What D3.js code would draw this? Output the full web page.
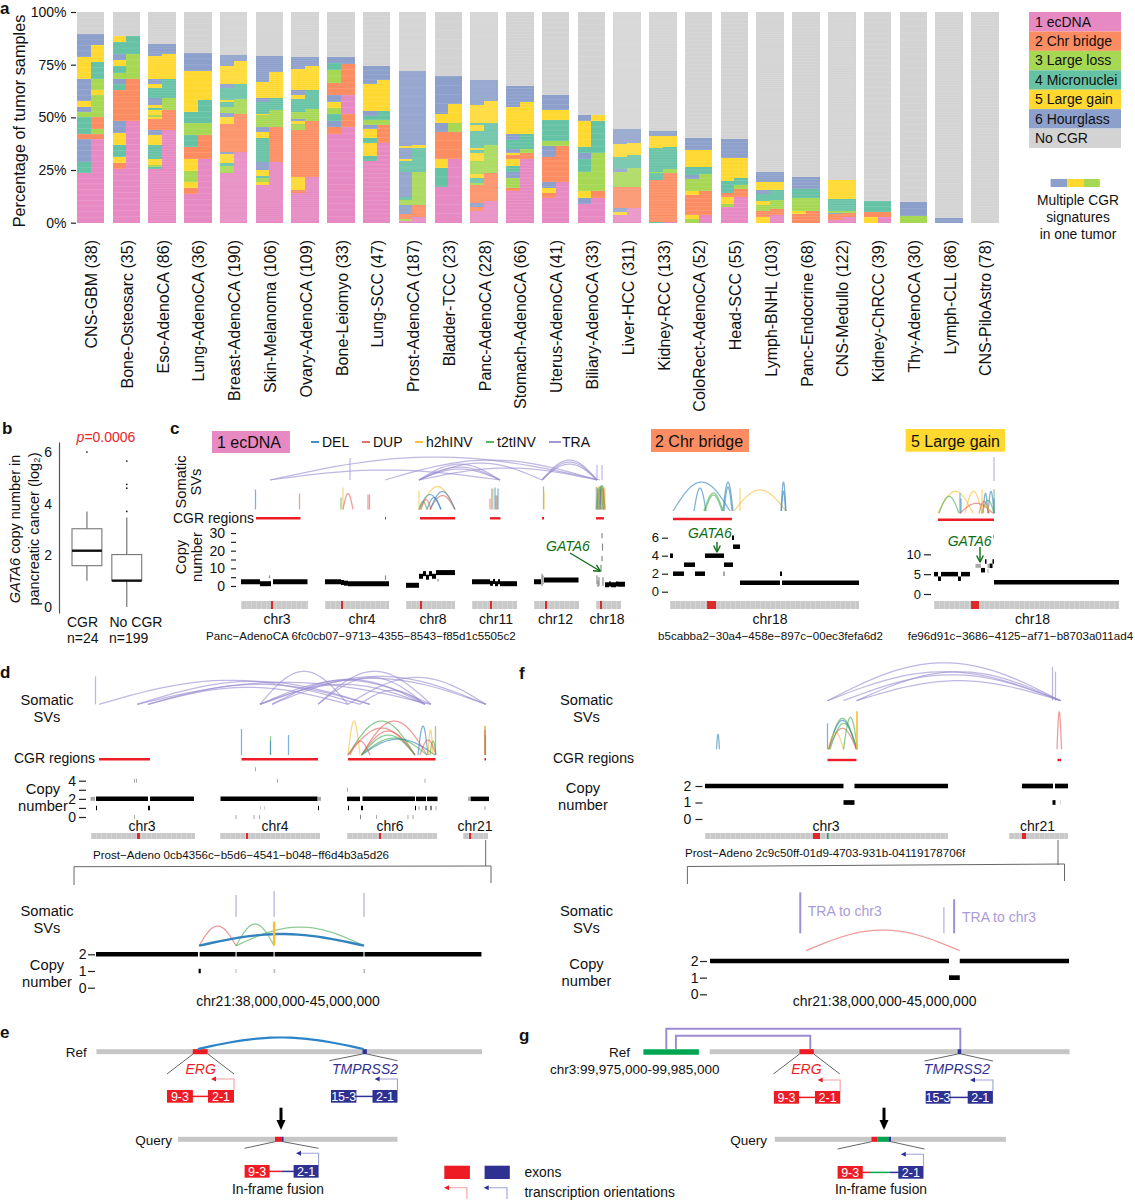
<!DOCTYPE html>
<html>
<head>
<meta charset="utf-8">
<script src="https://cdnjs.cloudflare.com/ajax/libs/d3/7.8.5/d3.min.js"></script>
<style>
body { margin: 0; background: #fff; }
svg { display: block; }
text { font-family: "Liberation Sans", Arial, sans-serif; fill: #111; }
</style>
</head>
<body>
<svg id="chart" width="1135" height="1200"></svg>
<script>
// ---- panel a
const cohorts = ["CNS-GBM", "Bone-Osteosarc", "Eso-AdenoCA", "Lung-AdenoCA", "Breast-AdenoCA", "Skin-Melanoma", "Ovary-AdenoCA", "Bone-Leiomyo", "Lung-SCC", "Prost-AdenoCA", "Bladder-TCC", "Panc-AdenoCA", "Stomach-AdenoCA", "Uterus-AdenoCA", "Biliary-AdenoCA", "Liver-HCC", "Kidney-RCC", "ColoRect-AdenoCA", "Head-SCC", "Lymph-BNHL", "Panc-Endocrine", "CNS-Medullo", "Kidney-ChRCC", "Thy-AdenoCA", "Lymph-CLL", "CNS-PiloAstro"];
const sampleCounts = [38, 35, 86, 36, 190, 106, 109, 33, 47, 187, 23, 228, 66, 41, 33, 311, 133, 52, 55, 103, 68, 122, 39, 30, 86, 78];
const signatures = ["1 ecDNA", "2 Chr bridge", "3 Large loss", "4 Micronuclei", "5 Large gain", "6 Hourglass", "No CGR"];
// each bar: [signature number, top of the band in %], bottom to top
const leftStacks = [
    [[1,23.4],[4,28.6],[6,39.5],[2,42],[4,50],[3,52.5],[6,55],[5,57.7],[6,68.4],[5,78.7],[6,89.4]],
    [[1,25.4],[2,28.4],[5,31.3],[4,36.8],[5,42.7],[6,48.3],[2,62.9],[4,65.7],[6,68.4],[3,71.2],[4,74.2],[5,77.1],[6,79.9],[4,85.8],[5,88.6]],
    [[1,25.3],[4,26.5],[3,27.6],[5,30],[4,36.8],[5,41.5],[6,43.9],[2,49],[5,50],[3,51],[5,53.4],[4,54.5],[5,55.8],[6,59.2],[4,63.7],[5,66],[6,68.4],[5,79],[6,85]],
    [[1,13.6],[2,16.3],[5,19.4],[3,24.6],[5,30.3],[2,35.7],[4,41.5],[3,47.1],[4,52.6],[5,72],[6,80.6]],
    [[1,23.4],[3,26.9],[4,28.5],[5,32.5],[6,33.5],[2,47],[5,50],[6,52.1],[3,54.7],[4,57.3],[5,58.3],[4,63.7],[6,65.7],[5,74.6],[6,79.5]],
    [[1,17.9],[5,19.5],[3,21],[4,22],[5,25],[6,28.9],[4,40.4],[5,43.1],[6,45.2],[3,51],[5,51.8],[4,57.3],[6,59.4],[5,66.8],[6,79]],
    [[1,14.2],[2,15.5],[5,21.8],[2,43.9],[3,46.8],[5,48.3],[6,49],[3,52.6],[4,58.5],[5,60.5],[6,63.2],[5,73.1],[6,78.7]],
    [[1,42.3],[2,45.2],[6,48.3],[4,51.5],[3,54.5],[5,57.3],[6,60.5],[2,66.4],[3,72.7],[4,75.8],[6,78.7]],
    [[1,29.4],[4,31.6],[5,37.9],[4,40.3],[5,44.4],[6,46.6],[3,48.7],[4,50.7],[6,52.9],[5,65.7],[6,74.4]],
    [[1,1],[3,1.9],[2,3.9],[6,8.4],[3,10.7],[4,12.3],[6,24.2],[4,29.2],[5,30],[6,35.5],[5,36.5],[6,72]],
    [[1,17],[4,25.8],[5,30.2],[2,43.1],[6,47.5],[5,51.8],[6,69.5]],
    [[1,5.7],[2,7.3],[6,9.5],[2,17.8],[3,19],[4,21.3],[5,22.9],[3,29.4],[5,33.2],[4,34.5],[5,35.5],[4,43.6],[5,46.3],[4,47.5],[5,55.8],[6,67.6]],
    [[1,15],[2,16.6],[3,21],[6,24.2],[4,27],[5,30],[2,32.1],[5,33.2],[6,34.8],[4,39.2],[6,42],[5,54.7],[6,64.9]],
    [[1,11.8],[2,14.2],[5,16.7],[6,19.4],[2,31.3],[6,36.3],[3,38.9],[4,48.7],[5,53.4],[6,60.8]],
    [[1,8.8],[6,11.8],[5,15],[3,24.2],[4,30],[6,33.2],[4,36],[5,48.3],[6,51.3]],
    [[1,3.6],[5,5.2],[6,6.8],[2,17],[3,24],[6,25.7],[4,31.2],[5,37.3],[6,44.7]],
    [[4,0.5],[2,20.2],[4,23.4],[3,24.2],[4,35.5],[5,41],[6,43.4]],
    [[3,1.6],[5,3.5],[2,13],[5,15],[3,20.9],[6,22.6],[4,26.5],[5,34.4],[6,40.3]],
    [[1,7.3],[3,8.8],[5,12.3],[2,14.2],[4,19.7],[5,30.8],[6,39.8]],
    [[5,2.7],[2,5.5],[3,8.4],[5,10.4],[4,13.4],[6,15.5],[5,19.1],[6,24]],
    [[2,4.1],[5,5.5],[3,11.5],[4,15.8],[6,21.8]],
    [[1,1.5],[2,3.9],[6,4.8],[3,5.5],[4,11.2],[5,20.2]],
    [[5,2.5],[2,5],[4,10.2]],
    [[3,3.3],[6,9.8]],
    [[6,2.2]],
    []
];
const rightStacks = [
    [[1,39.5],[2,42],[3,44.7],[2,50],[3,60.5],[5,63],[3,68.4],[4,76.3],[5,84.2],[6,89.4]],
    [[1,48.3],[2,68.4],[3,79.9],[4,88.6]],
    [[1,43.9],[2,53.4],[3,59.2],[4,68.4],[5,80.3],[6,85]],
    [[1,30.3],[2,41.5],[3,47.1],[4,58.1],[5,72],[6,80.6]],
    [[1,33.5],[2,51.8],[3,58.5],[4,65.7],[5,76.8],[6,79.5]],
    [[1,28.9],[2,45.2],[3,53.4],[4,59.4],[5,71.6],[6,79]],
    [[1,21.8],[2,48.3],[3,54.2],[4,63.2],[5,74.2],[6,78.7]],
    [[1,45.2],[2,51.5],[1,60.5],[2,75.5],[6,78.7]],
    [[1,38],[2,46.6],[3,48.7],[4,52.9],[5,67.9],[6,74.4]],
    [[1,2.5],[2,8.4],[3,24.2],[4,35.5],[5,36.8],[6,72]],
    [[1,30.2],[2,43.1],[3,47.5],[5,56.2],[6,69.5]],
    [[1,10.3],[2,23.4],[3,36.7],[4,47.5],[5,57.7],[6,67.6]],
    [[1,30],[2,33.2],[3,34.8],[4,42.3],[5,57.3],[6,64.9]],
    [[1,19.4],[2,36.5],[3,38.9],[4,48.7],[5,53.4],[6,60.8]],
    [[1,11.8],[2,15],[3,33.2],[4,48.3],[5,51.3]],
    [[1,6.8],[2,17],[3,26],[4,32],[5,37.7],[6,44.7]],
    [[1,0.5],[2,23.5],[3,25.5],[4,35.8],[5,41],[6,43.4]],
    [[1,3.5],[2,15],[3,22.9],[4,26.5],[5,34.4],[6,40.3]],
    [[1,12.3],[2,15.8],[3,17.7],[4,21.2],[5,30.8],[6,39.8]],
    [[1,3.6],[2,6.5],[3,11],[4,15.5],[5,19.1],[6,24]],
    [[2,5.5],[3,11.5],[4,15.8],[6,21.8]],
    [[1,2.5],[2,4.8],[3,5.6],[4,11.2],[5,20.2]],
    [[1,2.5],[2,5],[4,10.2]],
    [[3,3.3],[6,9.8]],
    [[6,2.2]],
    []
];

// ---- panel b
const boxGroups = ["CGR", "No CGR"];
const boxQ1 = [1.6, 1.02];
const boxMedian = [2.18, 1.02];
const boxQ3 = [3.03, 2.03];
const whiskerLow = [1.02, 0];
const whiskerHigh = [3.7, 3.47];
const boxOutliers = [[6], [3.7, 4.6, 4.75, 5.65]];

// ---- panel c, positions in Mb along the concatenated track: [type, from, to, arc height]
const c1Tra = [["TRA",58,718,23],["TRA",58,518,10],["TRA",288,712,20],["TRA",356,518,16],["TRA",356,518,13],["TRA",356,518,11],["TRA",356,602,17],["TRA",356,712,12],["TRA",602,712,20],["TRA",602,712,18],["TRA",602,712,16],["TRA",218,218,22],["TRA",712,712,15],["TRA",722,722,15]];
const c1Sv = [["DEL",29,29,20],["DUP",117,117,16],["H2H",204,204,22],["T2T",200,200,12],["DUP",204,224,16],["DUP",254,254,15],["DUP",257,257,15],
    ["H2H",358,428,23],["DEL",356,400,15],["DUP",378,428,14],["DEL",378,428,18],["T2T",356,372,8],["DEL",372,400,12],["H2H",356,356,19],["DUP",360,380,10],
    ["DUP",498,498,11],["DEL",502,502,21],["H2H",504,504,21],["DEL",508,508,22],["T2T",510,510,14],["DUP",512,512,14],["DEL",514,514,21],
    ["T2T",605,605,23],["H2H",606,606,18],
    ["H2H",712,726,23],["T2T",710,724,22],["DEL",714,720,20],["DUP",716,728,21],["T2T",716,728,24],["H2H",710,710,23],["DEL",712,712,22],["T2T",714,714,22],["H2H",716,716,24],["DUP",718,718,20],["DEL",720,720,24],["H2H",722,722,22],["T2T",724,724,23],["DUP",726,726,21],["H2H",728,728,22]];
const c1Cgr = [[30,119],[288,290],[358,428],[498,519],[602,606],[710,726]];
const c1Cn = [[0,38,2.4],[38,60,1.3],[64,133,2.4],[168,200,2.4],[200,206,2],[206,214,1.6],[214,296,1.3],[330,356,0.4],[356,364,5.5],[364,370,7],[370,376,5],[376,382,7],[382,390,5.5],[390,428,7.6],[462,498,2.4],[498,504,1.5],[504,508,2.5],[508,514,1.3],[514,518,2.4],[518,552,1.3],[586,600,2.4],[606,675,3.4],[728,736,0.7],[736,740,1.2],[740,750,0.7],[750,754,1.1],[754,768,1]];
const c1CnScatter = [[57,4.5,6],[289,3.5,6],[394,2.5,4],[602,0,7],[604,1,6],[722,27,30],[723,20,24],[722,14,17],[720,8,12],[716,0,5],[712,1,6],[714,-0.5,3],[724,0,5]];
const c1Chrs = [["chr3",0,133,60,64,72],["chr4",168,296,199,201,242],["chr8",330,428,358,360,384],["chr11",462,552,498,500,510],["chr12",586,676,608,610,629],["chr18",710,760,718,722,732]];

const c2Sv = [["DEL",6,120,29],["DEL",48,72,23],["T2T",68,106,18],["T2T",70,104,16],["DEL",106,126,29],["DEL",108,124,24],["H2H",128,232,21],["H2H",140,140,23],["DEL",222,232,29],["DEL",223,231,20]];
const c2Cgr = [[6,124]];
const c2Cn = [[0,6,4],[6,28,2],[28,50,3],[50,70,2],[70,108,4],[108,126,3],[126,140,5],[124,128,6],[140,220,1],[220,224,2],[224,378,1]];
const c2CnGray = [[106,110,2]];
const c2Chrs = [["chr18",0,378,74,92,200]];

const c3Tra = [["TRA",120,120,24]];
const c3Sv = [["H2H",8,78,22],["T2T",10,50,17],["DEL",52,52,20],["DEL",54,54,15],["H2H",62,96,22],["DUP",52,118,10],["H2H",96,96,24],["DEL",108,120,22],["T2T",96,120,13],["T2T",120,120,24],["DEL",98,108,20],["DUP",90,110,12],["H2H",96,112,8],["DEL",120,120,15]];
const c3Cgr = [[8,120]];
const c3Cn = [[0,8,5],[8,14,3.85],[14,48,5],[48,54,3.85],[54,72,5],[94,102,6],[102,105,8.2],[111,117,7.1],[117,120,8.2],[120,370,2.95]];
const c3CnGray = [[83,94,7.1],[107,111,7.1],[118,120,14.4],[107,109,5.8]];
const c3Chrs = [["chr18",0,370,74,90,197]];

// ---- panel d
const dTra = [["TRA",11,11,28],["TRA",18,540,24],["TRA",94,560,23],["TRA",116,560,20],["TRA",116,516,17],["TRA",94,682,22],["TRA",340,516,33],["TRA",364,670,25],["TRA",340,682,24],["TRA",340,792,26],["TRA",364,792,28],["TRA",456,682,33],["TRA",456,670,27],["TRA",340,670,20],["TRA",516,792,27],["TRA",540,670,14]];
const dSv = [["DEL",303,303,26],["T2T",361,361,19],["DEL",361,361,14],["DEL",397,397,20],
    ["H2H",516,540,34],["T2T",516,650,34],["DUP",543,674,34],["DUP",516,650,27],["DUP",543,650,24],["T2T",543,674,17],["DEL",543,690,16],["T2T",543,650,20],["DUP",520,560,14],["DEL",656,676,29],["H2H",676,686,25],["T2T",680,692,14],["T2T",691,691,29],["DUP",660,692,15],
    ["DEL",790,790,29],["H2H",789,789,29],["DUP",790,790,25],["T2T",791,791,20]];
const dCgr = [[18,120],[303,456],[516,691],[789,792]];
const dCn = [[12,116,2],[120,208,2],[261,455,2],[514,540,2],[545,650,2],[652,672,2],[674,695,2],[761,798,2],
    [12,14,1],[116,120,1],[456,458,1],[516,518,1],[542,546,1],[650,652,1],[671,673,1],[681,683,1],[541,542,0]];
const dCnGray = [[1,10,2],[456,462,2],[756,761,2],[340,341,1],[349,350,1],[657,659,1],[691,693,1],[789,791,1],
    [88,90,0],[291,293,0],[327,329,0],[338,340,0],[572,574,0],[635,637,0],[645,647,0],
    [88,90,4],[92,94,4],[374,376,4],[669,671,4],[514,516,3],[330,332,5.26]];
const dChrs = [["chr3",1,209,94,99,104],["chr4",260,460,311,314,370],["chr6",514,693,577,580,600],["chr21",746,796,758,761,770]];

const dZoomTra = [["TRA",40.54,40.54,22],["TRA",41.23,41.23,26],["TRA",42.86,42.86,24]];
const dZoomSv = [["DUP",39.87,40.54,19.7],["T2T",40.54,41.23,21.7],["T2T",40.54,42.86,18.7]];
const dZoomSvHeavy = [["DEL",39.87,42.86,11.7],["H2H",41.23,41.23,24]];
const dZoomCn = [[38,39.85,2],[39.88,40.53,2],[40.55,41.22,2],[41.24,42.85,2],[42.87,44.99,2],[39.86,39.9,1]];
const dZoomCnGray = [[40.53,40.55,1],[41.22,41.25,1],[42.85,42.88,1]];

// ---- panel f
const fTra = [["TRA",245,711,38],["TRA",245,711,29],["TRA",277,711,26],["TRA",303,711,29],["TRA",303,711,20],["TRA",695,695,34],["TRA",701,701,29]];
const fSv = [["DEL",23,29,15],["DEL",245,245,26],["T2T",247,303,31],["DEL",247,303,29],["DUP",247,303,21],["H2H",246,277,17],["T2T",277,305,32],["T2T",250,305,26],["DUP",704,713,37.6]];
const fSvHeavy = [["H2H",304,304,38]];
const fCgr = [[245,303],[705,712]];
const fCn = [[0,277,2],[299,486,2],[634,696,2],[700,726,2],[277,299,1],[695,701,1]];
const fCnGray = [[711,712,1]];
const fChrs = [["chr3",0,486,215,230,242],["chr21",608,726,634,642,665]];

const fZoomTraHeavy = [["TRA",39.76,39.76,41],["TRA",42.76,42.76,34]];
const fZoomTra = [["TRA",42.56,42.56,26]];
const fZoomSv = [["DUP",39.87,42.87,20.7]];
const fZoomCn = [[38,42.66,2],[42.87,45,2],[42.66,42.87,1]];

const svColor = {DEL: "#3182bd", DUP: "#e0605a", H2H: "#fcbc2e", T2T: "#45ad50", TRA: "#9a8ad0"};
const svLegend = [["DEL","DEL"],["DUP","DUP"],["H2H","h2hINV"],["T2T","t2tINV"],["TRA","TRA"]];
const sigColor = ["#e78ac3", "#fc8d62", "#a6d854", "#66c2a5", "#ffd92f", "#8da0cb", "#d3d3d3"];

const svg = d3.select("#chart");

function label(x, y, str, size = 14, anchor = "start", fill = "#111", style = "normal", rotate = false) {
    const t = svg.append("text")
        .attr("transform", `translate(${x},${y})` + (rotate ? " rotate(-90)" : ""))
        .attr("dy", "0.35em")
        .attr("text-anchor", anchor)
        .style("font-size", size + "px")
        .style("font-style", style)
        .style("fill", fill)
        .text(str);
    return t;
}

function seg(g, x0, y0, x1, y1, color, width, opacity = 1) {
    g.append("line").attr("x1", x0).attr("y1", y0).attr("x2", x1).attr("y2", y1)
        .attr("stroke", color).attr("stroke-width", width).attr("opacity", opacity);
}

function leftAxis(x, scale, values, size, pad, fontSize, fmt = d => d) {
    const g = svg.append("g")
        .attr("transform", `translate(${x},0)`)
        .call(d3.axisLeft(scale).tickValues(values).tickSize(size).tickPadding(pad).tickFormat(fmt));
    g.select(".domain").remove();
    g.selectAll("line").attr("stroke", "#222").attr("stroke-width", 1.2);
    g.selectAll("text").style("font-size", fontSize + "px");
    return g;
}

// ---- panel a
const barX = d3.scaleBand().domain(cohorts).range([76.8, 998.6]).paddingInner(0.231).paddingOuter(0);
const pctY = d3.scaleLinear().domain([0, 100]).range([222.7, 12]);
const barsG = svg.append("g").attr("shape-rendering", "crispEdges");

cohorts.forEach((name, i) => {
    const x0 = barX(name), w = barX.bandwidth(), half = w / 2;
    const g = barsG.append("g");
    const top = Math.max(0, ...leftStacks[i].map(d => d[1]), ...rightStacks[i].map(d => d[1]));
    g.append("rect").attr("x", x0).attr("width", w)
        .attr("y", pctY(100)).attr("height", pctY(top) - pctY(100)).attr("fill", sigColor[6]);
    [[leftStacks[i], x0], [rightStacks[i], x0 + half]].forEach(([stack, xs]) => {
        g.selectAll(null).data(stack).join("rect")
            .attr("x", xs).attr("width", half)
            .attr("y", d => pctY(d[1]))
            .attr("height", (d, j) => pctY(j ? stack[j - 1][1] : 0) - pctY(d[1]))
            .attr("fill", d => sigColor[d[0] - 1]);
    });
    // one row per sample, shows as faint stripes
    const rows = d3.range(1, sampleCounts[i]);
    svg.append("g").selectAll("line").data(rows).join("line")
        .attr("x1", x0).attr("x2", x0 + w)
        .attr("y1", d => pctY(d * 100 / sampleCounts[i]))
        .attr("y2", d => pctY(d * 100 / sampleCounts[i]))
        .attr("stroke", "#fff").attr("stroke-width", 0.4).attr("opacity", 0.3);
    label(x0 + w / 2 + 1, 240, `${name} (${sampleCounts[i]})`, 16, "end", "#111", "normal", true);
});
leftAxis(76, pctY, [0, 25, 50, 75, 100], 5, 4.5, 14, d => d + "%");
label(19.6, 121, "Percentage of tumor samples", 16.3, "middle", "#111", "normal", true);
label(0, 8, "a", 17).style("font-weight", "bold");

const legendY = d3.scaleBand().domain(signatures).range([12, 148]);
signatures.forEach((s, i) => {
    svg.append("rect").attr("x", 1029).attr("width", 92).attr("y", legendY(s)).attr("height", legendY.bandwidth()).attr("fill", sigColor[i]);
    label(1035, legendY(s) + legendY.bandwidth() / 2, s, 14);
});
[5, 4, 2].forEach((c, i) => {
    svg.append("rect").attr("x", 1050.6 + i * 16.4).attr("width", 16.4).attr("y", 179).attr("height", 8).attr("fill", sigColor[c]);
});
["Multiple CGR", "signatures", "in one tumor"].forEach((s, i) => label(1078, 200 + i * 17, s, 13.8, "middle"));

// ---- panel b
label(2, 428, "b", 17).style("font-weight", "bold");
const boxY = d3.scaleLinear().domain([-0.233, 6.39]).range([613, 442]);
const boxX = d3.scaleBand().domain(boxGroups).range([72, 141.7]).paddingInner(0.25);
const bAxis = svg.append("g").attr("transform", "translate(59,0)")
    .call(d3.axisLeft(boxY).tickValues([0, 2, 4, 6]).tickSize(0).tickSizeOuter(0).tickPadding(7).tickFormat(d => d));
bAxis.select(".domain").attr("stroke", "#555").attr("stroke-width", 1.2);
bAxis.selectAll("text").style("font-size", "14px");
const boxG = svg.append("g");
boxGroups.forEach((grp, i) => {
    const x0 = boxX(grp), w = boxX.bandwidth(), cx = x0 + w / 2;
    seg(boxG, cx, boxY(whiskerLow[i]), cx, boxY(boxQ1[i]), "#777", 1.2);
    seg(boxG, cx, boxY(boxQ3[i]), cx, boxY(whiskerHigh[i]), "#777", 1.2);
    boxG.append("rect").attr("x", x0).attr("width", w).attr("y", boxY(boxQ3[i]))
        .attr("height", boxY(boxQ1[i]) - boxY(boxQ3[i]))
        .attr("fill", "#fff").attr("stroke", "#777").attr("stroke-width", 1.1);
    seg(boxG, x0, boxY(boxMedian[i]), x0 + w, boxY(boxMedian[i]), "#111", 2.4);
    boxG.selectAll(null).data(boxOutliers[i]).join("circle")
        .attr("cx", cx).attr("cy", d => boxY(d)).attr("r", 0.9).attr("fill", "#222");
});
label(106, 437, "", 14, "middle", "#e8252a").call(t => {
    t.append("tspan").style("font-style", "italic").style("fill", "#e8252a").text("p");
    t.append("tspan").style("fill", "#e8252a").text("=0.0006");
});
label(15, 529, "", 14.5, "middle", "#111", "normal", true).call(t => {
    t.append("tspan").style("font-style", "italic").text("GATA6");
    t.append("tspan").text(" copy number in");
});
label(34, 529, "pancreatic cancer (log₂)", 14.5, "middle", "#111", "normal", true);
label(67, 622, "CGR", 14); label(109.5, 622, "No CGR", 14);
label(67, 638, "n=24", 14); label(109, 638, "n=199", 14);

// ---- genome track helpers
function drawSv(x, baseY, rows, width = 1.25, opacity = 0.62) {
    const y = d3.scaleLinear().domain([0, 40]).range([baseY, baseY - 40]);
    const arcLine = d3.line().x(d => d[0]).y(d => d[1]);
    svg.append("g").attr("fill", "none").selectAll("path").data(rows).join("path")
        .attr("d", d => {
            if (d[1] === d[2]) return arcLine([[x(d[1]), y(0)], [x(d[1]), y(d[3])]]);
            return arcLine(d3.range(0, 1.0001, 0.04).map(t =>
                [x(d[1]) + (x(d[2]) - x(d[1])) * t, y(d[3] * Math.sin(Math.PI * t))]));
        })
        .attr("stroke", d => svColor[d[0]])
        .attr("stroke-width", width)
        .attr("opacity", opacity);
}
function drawCgr(x, yPos, rows) {
    svg.append("g").selectAll("line").data(rows).join("line")
        .attr("x1", d => x(d[0])).attr("x2", d => x(d[1])).attr("y1", yPos).attr("y2", yPos)
        .attr("stroke", "#ee1c25").attr("stroke-width", 2.4);
}
function drawCn(x, y, rows, color, width) {
    svg.append("g").selectAll("line").data(rows).join("line")
        .attr("x1", d => x(d[0])).attr("x2", d => x(d[1]))
        .attr("y1", d => y(d[2])).attr("y2", d => y(d[2]))
        .attr("stroke", color).attr("stroke-width", width);
}
function drawChrs(x, top, height, rows, labelY) {
    const g = svg.append("g").attr("shape-rendering", "crispEdges");
    rows.forEach(d => {
        g.append("rect").attr("x", x(d[1])).attr("width", x(d[2]) - x(d[1])).attr("y", top).attr("height", height).attr("fill", "#c9c9c9");
        // faint band pattern along the chromosome
        g.append("line").attr("x1", x(d[1])).attr("x2", x(d[2])).attr("y1", top + height / 2).attr("y2", top + height / 2)
            .attr("stroke", "#fff").attr("stroke-width", height).attr("stroke-dasharray", "1 4").attr("opacity", 0.22);
        g.append("rect").attr("x", x(d[3])).attr("width", Math.max(2, x(d[4]) - x(d[3]))).attr("y", top).attr("height", height).attr("fill", "#dc2a2a");
        label(x(d[5]), labelY, d[0], 14, "middle");
    });
}

// ---- panel c
label(170, 428, "c", 17).style("font-weight", "bold");
const c1X = d3.scaleLinear().domain([0, 768]).range([241, 625]);
svg.append("rect").attr("x", 212).attr("y", 431).attr("width", 78).attr("height", 22).attr("fill", sigColor[0]);
label(217, 442, "1 ecDNA", 16);
const svLegendPos = {DEL: 311, DUP: 362, H2H: 415, T2T: 486, TRA: 549};
svLegend.forEach(([k, name]) => {
    const lx = svLegendPos[k];
    seg(svg, lx, 442, lx + (k === "TRA" ? 12 : 8), 442, svColor[k], 1.8);
    label(lx + (k === "TRA" ? 13 : 11), 442, name, 14);
});
label(181, 482, "Somatic", 14.7, "middle", "#111", "normal", true);
label(196, 482, "SVs", 14.7, "middle", "#111", "normal", true);
label(173, 518, "CGR regions", 14);
label(181, 557, "Copy", 14.7, "middle", "#111", "normal", true);
label(197, 557, "number", 14.7, "middle", "#111", "normal", true);
drawSv(c1X, 480, c1Tra);
drawSv(c1X, 509.5, c1Sv);
drawCgr(c1X, 518.3, c1Cgr);
const c1Y = d3.scaleLinear().domain([0, 30]).range([586, 533]);
leftAxis(236, c1Y, [0, 5, 10, 15, 20, 25, 30], 5, 6, 14, d => d % 10 ? "" : d);
drawCn(c1X, c1Y, c1Cn, "#000", 5);
svg.append("g").selectAll("line").data(c1CnScatter).join("line")
    .attr("x1", d => c1X(d[0])).attr("x2", d => c1X(d[0]))
    .attr("y1", d => c1Y(d[1])).attr("y2", d => c1Y(d[2]))
    .attr("stroke", "#8a8a8a").attr("stroke-width", 1.2);
drawChrs(c1X, 601, 8, c1Chrs, 619);
label(206, 635.5, "Panc−AdenoCA 6fc0cb07−9713−4355−8543−f85d1c5505c2", 11.6);
label(546, 546, "GATA6", 14, "start", "#0d6e12", "italic");

function greenArrow(x0, y0, x1, y1) {
    const g = svg.append("g");
    seg(g, x0, y0, x1, y1, "#0d6e12", 1.4);
    const a = Math.atan2(y1 - y0, x1 - x0), s = 7;
    const p = d3.path();
    p.moveTo(x1 + 0.5 * Math.cos(a), y1 + 0.5 * Math.sin(a));
    p.lineTo(x1 - s * Math.cos(a - 0.5), y1 - s * Math.sin(a - 0.5));
    p.moveTo(x1 + 0.5 * Math.cos(a), y1 + 0.5 * Math.sin(a));
    p.lineTo(x1 - s * Math.cos(a + 0.5), y1 - s * Math.sin(a + 0.5));
    g.append("path").attr("d", p.toString()).attr("fill", "none").attr("stroke", "#0d6e12").attr("stroke-width", 1.4);
}
greenArrow(570, 553, 600, 571);

const c2X = d3.scaleLinear().domain([0, 378]).range([670, 859]);
svg.append("rect").attr("x", 651).attr("y", 429).attr("width", 98).attr("height", 23).attr("fill", sigColor[1]);
label(655, 441, "2 Chr bridge", 16);
drawSv(c2X, 511, c2Sv);
drawCgr(c2X, 519, c2Cgr);
const c2Y = d3.scaleLinear().domain([0, 6]).range([591.7, 537.7]);
leftAxis(668, c2Y, [0, 2, 4, 6], 6, 3, 13);
drawCn(c2X, c2Y, c2Cn, "#000", 4.5);
drawCn(c2X, c2Y, c2CnGray, "#aaa", 4.5);
drawChrs(c2X, 601, 8, c2Chrs, 619);
label(658, 635.5, "b5cabba2−30a4−458e−897c−00ec3fefa6d2", 11.6);
label(688, 533, "GATA6", 14, "start", "#0d6e12", "italic");
greenArrow(717, 541.7, 717, 551.7);

const c3X = d3.scaleLinear().domain([0, 370]).range([934, 1119]);
svg.append("rect").attr("x", 905.7).attr("y", 429).attr("width", 99.3).attr("height", 22.7).attr("fill", sigColor[4]);
label(911, 441, "5 Large gain", 16);
drawSv(c3X, 481, c3Tra);
drawSv(c3X, 513.3, c3Sv);
drawCgr(c3X, 519.7, c3Cgr);
const c3Y = d3.scaleLinear().domain([0, 10]).range([594, 554.3]);
leftAxis(931, c3Y, [0, 5, 10], 7, 3, 13);
drawCn(c3X, c3Y, c3Cn, "#000", 4.5);
drawCn(c3X, c3Y, c3CnGray, "#aaa", 4);
drawChrs(c3X, 601, 8, c3Chrs, 619);
label(907.7, 635.5, "fe96d91c−3686−4125−af71−b8703a011ad4", 11.6);
label(947.7, 540.7, "GATA6", 14, "start", "#0d6e12", "italic");
greenArrow(980, 547, 980, 561.7);

// ---- panel d
label(0, 672, "d", 17).style("font-weight", "bold");
const dX = d3.scaleLinear().domain([0, 800]).range([90, 490]);
label(47, 700, "Somatic", 14.7, "middle"); label(47, 717, "SVs", 14.7, "middle");
label(14, 757.7, "CGR regions", 14);
label(43, 789, "Copy", 14.7, "middle"); label(43, 805.7, "number", 14.7, "middle");
drawSv(dX, 704.3, dTra);
drawSv(dX, 755, dSv);
drawCgr(dX, 759.3, dCgr);
const dY = d3.scaleLinear().domain([0, 4]).range([817, 780.7]);
leftAxis(86, dY, [0, 1, 2, 3, 4], 7, 3, 14, d => d % 2 ? "" : d);
drawCn(dX, dY, dCn, "#000", 4.5);
drawCn(dX, dY, dCnGray, "#aaa", 4);
drawChrs(dX, 833, 6, dChrs, 826);
label(93, 855, "Prost−Adeno 0cb4356c−b5d6−4541−b048−ff6d4b3a5d26", 11.6);
const bracket = svg.append("g");
seg(bracket, 485.7, 840, 485.7, 866, "#666", 1);
seg(bracket, 74, 866.7, 491, 866, "#666", 1);
seg(bracket, 74, 866.7, 74, 885, "#666", 1);
seg(bracket, 491, 866, 491, 883, "#666", 1);

const dzX = d3.scaleLinear().domain([38, 45]).range([96, 482]);
label(47, 911, "Somatic", 14.7, "middle"); label(47, 928, "SVs", 14.7, "middle");
label(47, 965, "Copy", 14.7, "middle"); label(47, 981.7, "number", 14.7, "middle");
drawSv(dzX, 917, dZoomTra, 1.4);
drawSv(dzX, 945.7, dZoomSv);
drawSv(dzX, 945.7, dZoomSvHeavy, 2.4, 1);
const dzY = d3.scaleLinear().domain([0, 2]).range([987.7, 954.3]);
leftAxis(95, dzY, [0, 1, 2], 7, 1.5, 14);
drawCn(dzX, dzY, dZoomCn, "#000", 4.5);
drawCn(dzX, dzY, dZoomCnGray, "#bbb", 4);
label(288, 1001, "chr21:38,000,000-45,000,000", 14, "middle");

// ---- panel f
label(519, 673, "f", 17).style("font-weight", "bold");
const fX = d3.scaleLinear().domain([0, 728]).range([705, 1069]);
label(586.5, 700, "Somatic", 14.7, "middle"); label(586.5, 717, "SVs", 14.7, "middle");
label(553, 757.7, "CGR regions", 14);
label(583, 788.3, "Copy", 14.7, "middle"); label(583, 805, "number", 14.7, "middle");
drawSv(fX, 700.7, fTra);
drawSv(fX, 749.3, fSv);
drawSv(fX, 749.3, fSvHeavy, 2, 0.8);
drawCgr(fX, 760, fCgr);
const fY = d3.scaleLinear().domain([0, 2]).range([819, 786]);
leftAxis(702.4, fY, [0, 1, 2], 7, 4, 14);
drawCn(fX, fY, fCn, "#000", 4.7);
drawCn(fX, fY, fCnGray, "#aaa", 4);
drawChrs(fX, 833, 6, fChrs, 826);
svg.append("rect").attr("x", fX(244)).attr("y", 833).attr("width", 1.5).attr("height", 6).attr("fill", "#1f9e6a");
label(685, 853, "Prost−Adeno 2c9c50ff-01d9-4703-931b-04119178706f", 11.6);
const bracketF = svg.append("g");
seg(bracketF, 1058, 840, 1058, 865, "#666", 1);
seg(bracketF, 687.4, 866.5, 1064.5, 864, "#666", 1);
seg(bracketF, 687.4, 866.5, 687.4, 884, "#666", 1);
seg(bracketF, 1064.5, 864, 1064.5, 881, "#666", 1);

const fzX = d3.scaleLinear().domain([38, 45]).range([710, 1069]);
label(586.5, 911, "Somatic", 14.7, "middle"); label(586.5, 928, "SVs", 14.7, "middle");
label(586.5, 964.3, "Copy", 14.7, "middle"); label(586.5, 981, "number", 14.7, "middle");
drawSv(fzX, 933.3, fZoomTraHeavy, 2, 0.95);
drawSv(fzX, 933.3, fZoomTra, 1.4, 0.6);
label(807.8, 910.7, "TRA to chr3", 14, "start", "#ab9cd6");
label(962, 916.7, "TRA to chr3", 14, "start", "#ab9cd6");
drawSv(fzX, 950.7, fZoomSv);
const fzY = d3.scaleLinear().domain([0, 2]).range([994.3, 961]);
leftAxis(707, fzY, [0, 1, 2], 7, 1.5, 14);
drawCn(fzX, fzY, fZoomCn, "#000", 4.7);
label(884.6, 1001, "chr21:38,000,000-45,000,000", 14, "middle");

// ---- panels e, g: schematics
const RED = "#ed1c24", NAVY = "#2e3192", GREEN = "#00a651", GREY = "#c6c6c6", LINK = "#666";
const schemeG = svg.append("g");
function flatBar(x0, x1, y, color, h = 5) {
    schemeG.append("rect").attr("x", x0).attr("width", x1 - x0).attr("y", y - h / 2).attr("height", h).attr("fill", color);
}
function exon(x0, x1, y, color, str) {
    schemeG.append("rect").attr("x", x0).attr("width", x1 - x0).attr("y", y).attr("height", 12.7).attr("fill", color);
    svg.append("text").attr("x", (x0 + x1) / 2).attr("y", y + 6.3).attr("dy", "0.35em").attr("text-anchor", "middle")
        .style("fill", "#fff").style("font-size", "12.5px").text(str);
}
function tssArrow(xBase, xTip, yBase, yTop, color, soft) {
    const p = d3.path();
    p.moveTo(xBase, yBase); p.lineTo(xBase, yTop); p.lineTo(xTip, yTop);
    schemeG.append("path").attr("d", p.toString()).attr("fill", "none").attr("stroke", soft).attr("stroke-width", 1.1);
    const h = d3.path();
    h.moveTo(xTip - 4, yTop); h.lineTo(xTip + 1, yTop - 2.5); h.lineTo(xTip + 1, yTop + 2.5); h.closePath();
    schemeG.append("path").attr("d", h.toString()).attr("fill", color);
}
function bigArrow(x, y0, y1) {
    seg(schemeG, x, y0, x, y1 - 8, "#000", 3);
    const h = d3.path();
    h.moveTo(x - 4.5, y1 - 10); h.lineTo(x + 4.5, y1 - 10); h.lineTo(x, y1); h.closePath();
    schemeG.append("path").attr("d", h.toString()).attr("fill", "#000");
}

// panel e
label(0, 1032, "e", 17).style("font-weight", "bold");
const refX = d3.scaleLinear().domain([38, 45]).range([96.4, 482]);
label(86.8, 1052.7, "Ref", 13.5, "end");
flatBar(refX(38), refX(45), 1051.7, GREY);
flatBar(refX(39.75), refX(40.02), 1051.7, RED);
flatBar(refX(42.83), refX(42.91), 1051.7, NAVY);
const refArc = d3.line().x(d => d[0]).y(d => d[1]);
schemeG.append("path").attr("d", refArc(d3.range(0, 1.0001, 0.04).map(t =>
    [refX(39.84) + (refX(42.85) - refX(39.84)) * t, 1049 - 11.5 * Math.sin(Math.PI * t)])))
    .attr("fill", "none").attr("stroke", "#2b84c9").attr("stroke-width", 2.2);
seg(schemeG, 193, 1054, 167, 1074, LINK, 1);
seg(schemeG, 208, 1054, 234, 1074, LINK, 1);
seg(schemeG, 362.5, 1054, 329.3, 1060.7, LINK, 1);
seg(schemeG, 366.8, 1054, 397.5, 1060.7, LINK, 1);
label(200.7, 1069.3, "ERG", 14, "middle", RED, "italic");
label(365, 1069.3, "TMPRSS2", 14, "middle", NAVY, "italic");
seg(schemeG, 192, 1096.4, 209, 1096.4, RED, 1.5);
seg(schemeG, 356, 1096.4, 373, 1096.4, NAVY, 1.5);
exon(167, 192.9, 1090, RED, "9-3"); exon(208, 234, 1090, RED, "2-1");
exon(331, 356.4, 1090, NAVY, "15-3"); exon(372.5, 397.5, 1090, NAVY, "2-1");
tssArrow(234, 215, 1090, 1079, RED, "#f7a0a4");
tssArrow(397.5, 378.6, 1090, 1079, NAVY, "#9fa3d6");
bigArrow(281, 1107.7, 1130);
label(172, 1140.7, "Query", 13.5, "end");
flatBar(177.9, 397.5, 1139.3, GREY);
flatBar(275, 282, 1139.3, RED); flatBar(282, 283.5, 1139.3, NAVY);
seg(schemeG, 275, 1141.7, 244.6, 1148.3, LINK, 1);
seg(schemeG, 283, 1141.7, 318.6, 1148.3, LINK, 1);
seg(schemeG, 269, 1171.4, 282, 1171.4, RED, 1.5);
seg(schemeG, 282, 1171.4, 294, 1171.4, NAVY, 1.5);
exon(244.6, 269.6, 1165, RED, "9-3"); exon(293.6, 318.6, 1165, NAVY, "2-1");
tssArrow(318.6, 300, 1165, 1153.3, NAVY, "#9fa3d6");
label(277.9, 1189.3, "In-frame fusion", 13.8, "middle");

// exon / orientation key
schemeG.append("rect").attr("x", 444.3).attr("y", 1165.7).attr("width", 25.6).attr("height", 13.3).attr("fill", RED);
schemeG.append("rect").attr("x", 484.6).attr("y", 1165.7).attr("width", 25.2).attr("height", 13.3).attr("fill", NAVY);
label(524.5, 1171.7, "exons", 13.8);
tssArrow(466.9, 448, 1199, 1187.7, RED, "#f7a0a4");
tssArrow(507, 487.7, 1199, 1187.7, NAVY, "#9fa3d6");
label(524.5, 1192, "transcription orientations", 13.8);

// panel g
label(519, 1035, "g", 17).style("font-weight", "bold");
label(630, 1052.7, "Ref", 13.5, "end");
label(634.7, 1069, "chr3:99,975,000-99,985,000", 13.5, "middle");
flatBar(643.4, 698.9, 1052, GREEN, 5.5);
const gRefX = d3.scaleLinear().domain([38, 45]).range([709.7, 1069.6]);
flatBar(gRefX(38), gRefX(45), 1051.7, GREY);
flatBar(799.5, 813.8, 1051.7, RED);
flatBar(957.7, 961.2, 1051.7, NAVY);
[[666.3, 960.3, 1028.7], [675.9, 810.3, 1035.7]].forEach(([x0, x1, yTop]) => {
    const p = d3.path();
    p.moveTo(x0, 1049); p.lineTo(x0, yTop); p.lineTo(x1, yTop); p.lineTo(x1, 1049);
    schemeG.append("path").attr("d", p.toString()).attr("fill", "none").attr("stroke", svColor.TRA).attr("stroke-width", 1.9);
});
seg(schemeG, 799.5, 1054, 773.4, 1074, LINK, 1);
seg(schemeG, 813.8, 1054, 839.8, 1074, LINK, 1);
seg(schemeG, 957.7, 1054, 924.4, 1061, LINK, 1);
seg(schemeG, 961.2, 1054, 992.9, 1061, LINK, 1);
label(806.4, 1069.3, "ERG", 14, "middle", RED, "italic");
label(956.9, 1069.3, "TMPRSS2", 14, "middle", NAVY, "italic");
seg(schemeG, 798, 1097.4, 816, 1097.4, RED, 1.5);
seg(schemeG, 950, 1097.4, 968, 1097.4, NAVY, 1.5);
exon(773.9, 799, 1091, RED, "9-3"); exon(815, 840.2, 1091, RED, "2-1");
exon(925.7, 950.4, 1091, NAVY, "15-3"); exon(967.7, 992.9, 1091, NAVY, "2-1");
tssArrow(840.2, 821.6, 1091, 1080, RED, "#f7a0a4");
tssArrow(992.9, 974, 1091, 1080, NAVY, "#9fa3d6");
bigArrow(884, 1107.7, 1130);
label(767, 1140.7, "Query", 13.5, "end");
flatBar(774.8, 1005.9, 1139.3, GREY);
flatBar(871.5, 877.5, 1139.3, RED); flatBar(877.5, 888.8, 1139.3, GREEN); flatBar(888.8, 891, 1139.3, NAVY);
seg(schemeG, 871.5, 1141.7, 837.6, 1149, LINK, 1);
seg(schemeG, 891, 1141.7, 924.4, 1149, LINK, 1);
seg(schemeG, 862, 1172.4, 870, 1172.4, RED, 1.5);
seg(schemeG, 870, 1172.4, 890, 1172.4, GREEN, 1.5);
seg(schemeG, 890, 1172.4, 899, 1172.4, NAVY, 1.5);
exon(837.6, 862.8, 1166, RED, "9-3"); exon(898.3, 923.5, 1166, NAVY, "2-1");
tssArrow(923.5, 904.8, 1166, 1154.3, NAVY, "#9fa3d6");
label(881, 1189.3, "In-frame fusion", 13.8, "middle");
</script>
</body>
</html>
